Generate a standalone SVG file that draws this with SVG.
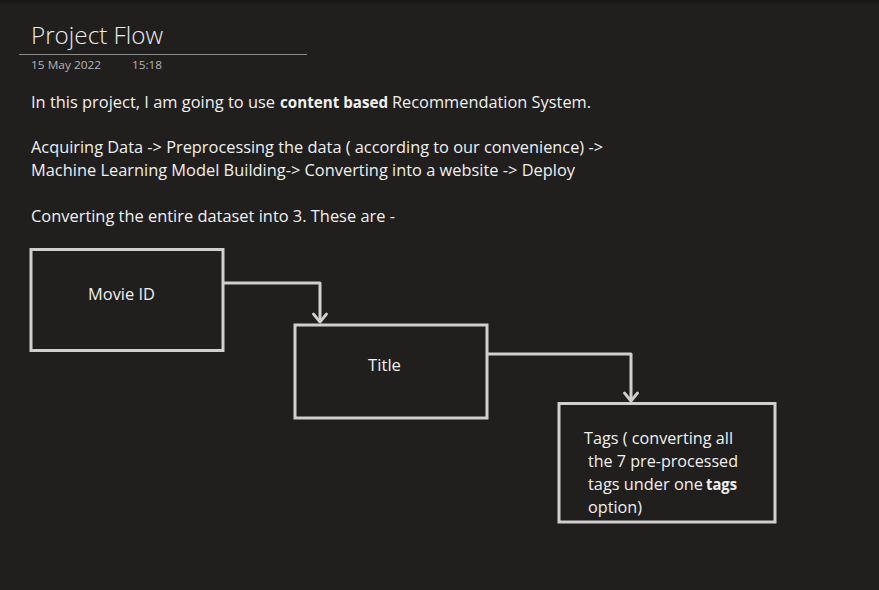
<svg xmlns="http://www.w3.org/2000/svg" width="879" height="590" viewBox="0 0 879 590">
<defs>
<linearGradient id="topfade" x1="0" y1="0" x2="0" y2="1">
<stop offset="0" stop-color="#151515"/>
<stop offset="1" stop-color="#201f1d"/>
</linearGradient>
<marker id="chev" markerWidth="12" markerHeight="16" refX="10" refY="8" orient="auto" markerUnits="userSpaceOnUse" viewBox="0 0 12 16">
<polyline points="2,1.5 10,8 2,14.5" fill="none" stroke="#cfcfcf" stroke-width="2.8" stroke-linecap="round" stroke-linejoin="round"/>
</marker>
<style>
.bg{fill:#201f1d}
.t{font-family:"Open Sans","Liberation Sans",sans-serif;fill:#f0f0f0;font-size:15.5px}
.b{font-weight:bold}
.box{fill:none;stroke:#cfcfcf;stroke-width:3}
.conn{fill:none;stroke:#cfcfcf;stroke-width:3;stroke-linejoin:round}
.title{font-family:"Open Sans","Liberation Sans",sans-serif;font-weight:300;font-size:23px;fill:#ececec}
.date{font-family:"Open Sans","Liberation Sans",sans-serif;font-size:10.5px;fill:#b5b5b5}
</style>
</defs>
<rect class="bg" x="0" y="0" width="879" height="590"/>
<rect x="0" y="0" width="879" height="5" fill="url(#topfade)"/>

<g id="header">
<text class="title" x="31" y="44" textLength="132" lengthAdjust="spacingAndGlyphs">Project Flow</text>
<line x1="19" y1="54.5" x2="307" y2="54.5" stroke="#8a8a8a" stroke-width="1"/>
<text class="date" x="31" y="69" textLength="70" lengthAdjust="spacingAndGlyphs">15 May 2022</text>
<text class="date" x="132" y="69" textLength="30" lengthAdjust="spacingAndGlyphs">15:18</text>
</g>

<g id="body">
<text class="t" x="31" y="108" textLength="244" lengthAdjust="spacingAndGlyphs">In this project, I am going to use</text>
<text class="t b" x="280" y="108" textLength="108" lengthAdjust="spacingAndGlyphs">content based</text>
<text class="t" x="392" y="108" textLength="199" lengthAdjust="spacingAndGlyphs">Recommendation System.</text>
<text class="t" x="31" y="153" textLength="572" lengthAdjust="spacingAndGlyphs">Acquiring Data -&gt; Preprocessing the data ( according to our convenience) -&gt;</text>
<text class="t" x="31" y="176" textLength="544" lengthAdjust="spacingAndGlyphs">Machine Learning Model Building-&gt; Converting into a website -&gt; Deploy</text>
<text class="t" x="31" y="222" textLength="364" lengthAdjust="spacingAndGlyphs">Converting the entire dataset into 3. These are -</text>
</g>

<g id="connectors">
<polyline class="conn" points="224,283 320,283 320,322" marker-end="url(#chev)"/>
<polyline class="conn" points="488,354 631,354 631,401" marker-end="url(#chev)"/>
</g>

<g id="node-movieid">
<rect class="box" x="31" y="249.5" width="192" height="101"/>
<text class="t" x="88" y="300" textLength="67" lengthAdjust="spacingAndGlyphs">Movie ID</text>
</g>

<g id="node-title">
<rect class="box" x="295" y="325" width="192" height="93"/>
<text class="t" x="368" y="371" textLength="33" lengthAdjust="spacingAndGlyphs">Title</text>
</g>

<g id="node-tags">
<rect class="box" x="559" y="403.5" width="216" height="118.5"/>
<text class="t" x="584" y="444" textLength="149" lengthAdjust="spacingAndGlyphs">Tags ( converting all</text>
<text class="t" x="588" y="467" textLength="150" lengthAdjust="spacingAndGlyphs">the 7 pre-processed</text>
<text class="t" x="588" y="490" textLength="115" lengthAdjust="spacingAndGlyphs">tags under one</text>
<text class="t b" x="706" y="490" textLength="31" lengthAdjust="spacingAndGlyphs">tags</text>
<text class="t" x="588" y="513" textLength="54" lengthAdjust="spacingAndGlyphs">option)</text>
</g>
</svg>
